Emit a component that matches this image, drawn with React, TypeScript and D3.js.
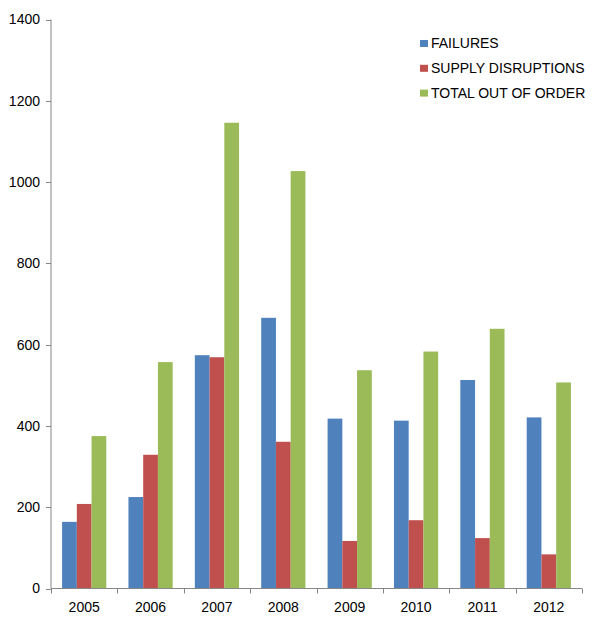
import React from "react";
import * as d3 from "d3";

const years = ["2005", "2006", "2007", "2008", "2009", "2010", "2011", "2012"];
const failures = [164, 225, 574, 666, 418, 413, 513, 421];
const supplyDisruptions = [208, 329, 569, 361, 117, 168, 124, 84];
const totalOutOfOrder = [375, 557, 1146, 1027, 537, 583, 639, 507];
const seriesNames = ["FAILURES", "SUPPLY DISRUPTIONS", "TOTAL OUT OF ORDER"];
const seriesColors = ["#4F81BD", "#C0504D", "#9BBB59"];
const yTicks = [0, 200, 400, 600, 800, 1000, 1200, 1400];

const W = 600;
const H = 636;
const left = 51;
const right = 582;
const top = 19.5;
const bottom = 588.5;

export default function App() {
  const series = [failures, supplyDisruptions, totalOutOfOrder];
  const x = d3.scaleBand<string>().domain(years).range([left, right]).paddingInner(0).paddingOuter(0);
  const y = d3.scaleLinear().domain([0, 1400]).range([bottom, top]);
  const bw = x.bandwidth();
  const barW = bw * 0.222;
  const groupOffset = (bw - barW * 3) / 2;
  const font = "'Liberation Sans', Arial, sans-serif";
  const axisColor = "#868686";
  const fs = 14;

  return (
    <svg width={W} height={H} style={{ position: "absolute", left: 0, top: 0, background: "#fff" }}>
      <rect x={0} y={0} width={W} height={H} fill="#fff" />
      {series.map((vals, si) =>
        vals.map((v, i) => (
          <rect
            key={`${si}-${i}`}
            x={(x(years[i]) as number) + groupOffset + si * barW}
            y={y(v)}
            width={barW}
            height={y(0) - y(v)}
            fill={seriesColors[si]}
          />
        ))
      )}
      {/* y axis */}
      <line x1={left} x2={left} y1={y(1400)} y2={y(0)} stroke={axisColor} strokeWidth={1} />
      {yTicks.map((t) => (
        <g key={t}>
          <line x1={left - 5} x2={left} y1={Math.round(y(t)) + 0.5} y2={Math.round(y(t)) + 0.5} stroke={axisColor} />
          <text x={40} y={y(t)} dy="0.35em" textAnchor="end" fontFamily={font} fontSize={fs} fill="#000">
            {t}
          </text>
        </g>
      ))}
      {/* x axis */}
      <line x1={left} x2={right} y1={bottom} y2={bottom} stroke={axisColor} strokeWidth={1} />
      {[...years.map((yr) => x(yr) as number), right].map((px, i) => (
        <line key={i} x1={Math.round(px) + 0.5} x2={Math.round(px) + 0.5} y1={bottom} y2={bottom + 5} stroke={axisColor} />
      ))}
      {years.map((yr) => (
        <text
          key={yr}
          x={(x(yr) as number) + bw / 2}
          y={607}
          dy="0.35em"
          textAnchor="middle"
          fontFamily={font}
          fontSize={fs}
          fill="#000"
        >
          {yr}
        </text>
      ))}
      {/* legend */}
      {seriesNames.map((name, i) => (
        <g key={name}>
          <rect x={420} y={40 + i * 24.8} width={8} height={7} fill={seriesColors[i]} />
          <text x={431} y={43.5 + i * 24.8} dy="0.35em" fontFamily={font} fontSize={fs} fill="#000">
            {name}
          </text>
        </g>
      ))}
    </svg>
  );
}
